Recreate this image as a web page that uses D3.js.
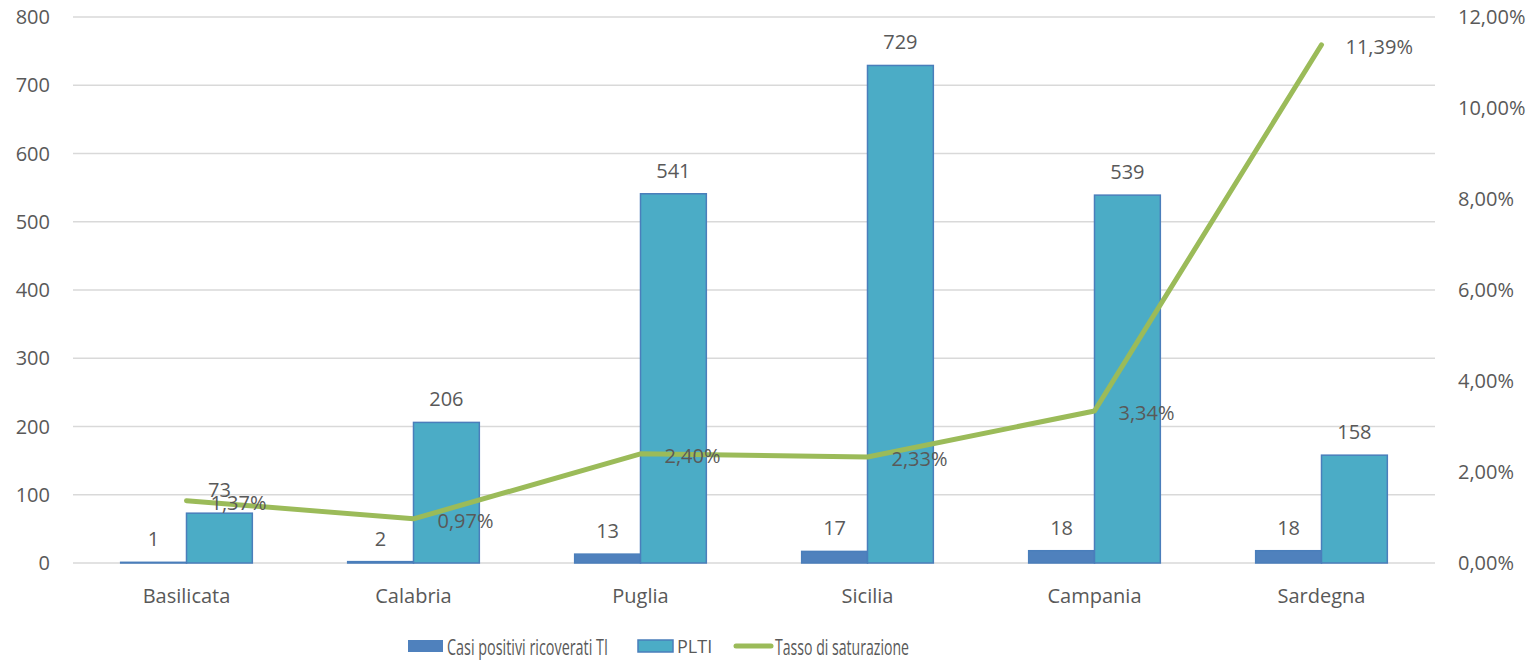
<!DOCTYPE html>
<html><head><meta charset="utf-8">
<script src="https://cdn.jsdelivr.net/npm/d3@7"></script>
<style>body{margin:0;background:#fff}svg{display:block}text{font-family:"Open Sans",sans-serif;fill:#595959}</style>
</head><body><svg id="c" width="1538" height="660"></svg>
<script>
const categories = ["Basilicata","Calabria","Puglia","Sicilia","Campania","Sardegna"];
const casi = [1,2,13,17,18,18];
const plti = [73,206,541,729,539,158];
const tasso = [1.37,0.97,2.40,2.33,3.34,11.39];
const leftTicks = [0,100,200,300,400,500,600,700,800];
const rightTicks = [0,2,4,6,8,10,12];
const seriesNames = ["Casi positivi ricoverati TI","PLTI","Tasso di saturazione"];

const svg = d3.select("#c");
const L=73,R=1435,T=17,B=563;
const FS=20;
const x = d3.scaleBand().domain(categories).range([L,R]);
const yL = d3.scaleLinear().domain([0,800]).range([B,T]);
const yR = d3.scaleLinear().domain([0,12]).range([B,T]);
const fmt = v => d3.format(".2f")(v).replace(".",",")+"%";
const bw = x.bandwidth()*0.29;

svg.append("g").selectAll("line").data(leftTicks).join("line")
  .attr("x1",L).attr("x2",R).attr("y1",d=>yL(d)).attr("y2",d=>yL(d))
  .attr("stroke","#d9d9d9").attr("stroke-width",1.5);

svg.append("g").selectAll("text").data(leftTicks).join("text")
  .attr("x",50).attr("y",d=>yL(d)).attr("dy","0.35em").attr("text-anchor","end")
  .attr("font-size",FS).text(d=>d);
svg.append("g").selectAll("text").data(rightTicks).join("text")
  .attr("x",1458).attr("y",d=>yR(d)).attr("dy","0.35em").attr("text-anchor","start")
  .attr("font-size",FS).text(d=>fmt(d));

const cx = c => x(c)+x.bandwidth()/2;
svg.append("g").selectAll("rect").data(categories).join("rect")
  .attr("x",c=>cx(c)-bw).attr("width",bw)
  .attr("y",(c,i)=>yL(casi[i])).attr("height",(c,i)=>B-yL(casi[i]))
  .attr("fill","#4f81bd").attr("stroke","#4a7ebb").attr("stroke-width",1.5);
svg.append("g").selectAll("rect").data(categories).join("rect")
  .attr("x",c=>cx(c)).attr("width",bw)
  .attr("y",(c,i)=>yL(plti[i])).attr("height",(c,i)=>B-yL(plti[i]))
  .attr("fill","#4bacc6").attr("stroke","#4a7ebb").attr("stroke-width",1.5);

svg.append("g").selectAll("text").data(categories).join("text")
  .attr("x",c=>cx(c)-bw/2).attr("y",(c,i)=>yL(casi[i])-16)
  .attr("text-anchor","middle").attr("font-size",FS).text((c,i)=>casi[i]);
svg.append("g").selectAll("text").data(categories).join("text")
  .attr("x",c=>cx(c)+bw/2).attr("y",(c,i)=>yL(plti[i])-16)
  .attr("text-anchor","middle").attr("font-size",FS).text((c,i)=>plti[i]);

const line = d3.line().x((d,i)=>cx(categories[i])).y(d=>yR(d));
svg.append("path").datum(tasso).attr("d",line).attr("fill","none")
  .attr("stroke","#9bbb59").attr("stroke-width",5).attr("stroke-linecap","round").attr("stroke-linejoin","round");
svg.append("g").selectAll("text").data(tasso).join("text")
  .attr("x",(d,i)=>cx(categories[i])+24).attr("y",d=>yR(d)+2).attr("dy","0.35em")
  .attr("font-size",FS).text(d=>fmt(d));

svg.append("g").selectAll("text").data(categories).join("text")
  .attr("x",c=>cx(c)).attr("y",596).attr("dy","0.35em").attr("text-anchor","middle")
  .attr("font-size",FS).text(c=>c);

const LFS=22;
const lg = svg.append("g");
function legText(tx, w, s){
  const t = lg.append("text").attr("x",0).attr("y",0).attr("dy","0.35em").attr("font-size",LFS).text(s);
  const nat = t.node().getComputedTextLength();
  t.attr("transform",`translate(${tx},647) scale(${w/nat},1)`);
}
lg.append("rect").attr("x",408).attr("y",640).attr("width",35).attr("height",12).attr("fill","#4f81bd");
legText(447,161,seriesNames[0]);
lg.append("rect").attr("x",638).attr("y",640).attr("width",35).attr("height",12).attr("fill","#4bacc6").attr("stroke","#4a7ebb").attr("stroke-width",1.5);
lg.append("text").attr("x",677).attr("y",647).attr("dy","0.35em").attr("font-size",18).text(seriesNames[1]);
lg.append("line").attr("x1",736).attr("x2",771).attr("y1",646).attr("y2",646).attr("stroke","#9bbb59").attr("stroke-width",5).attr("stroke-linecap","round");
legText(775,134,seriesNames[2]);
</script></body></html>
